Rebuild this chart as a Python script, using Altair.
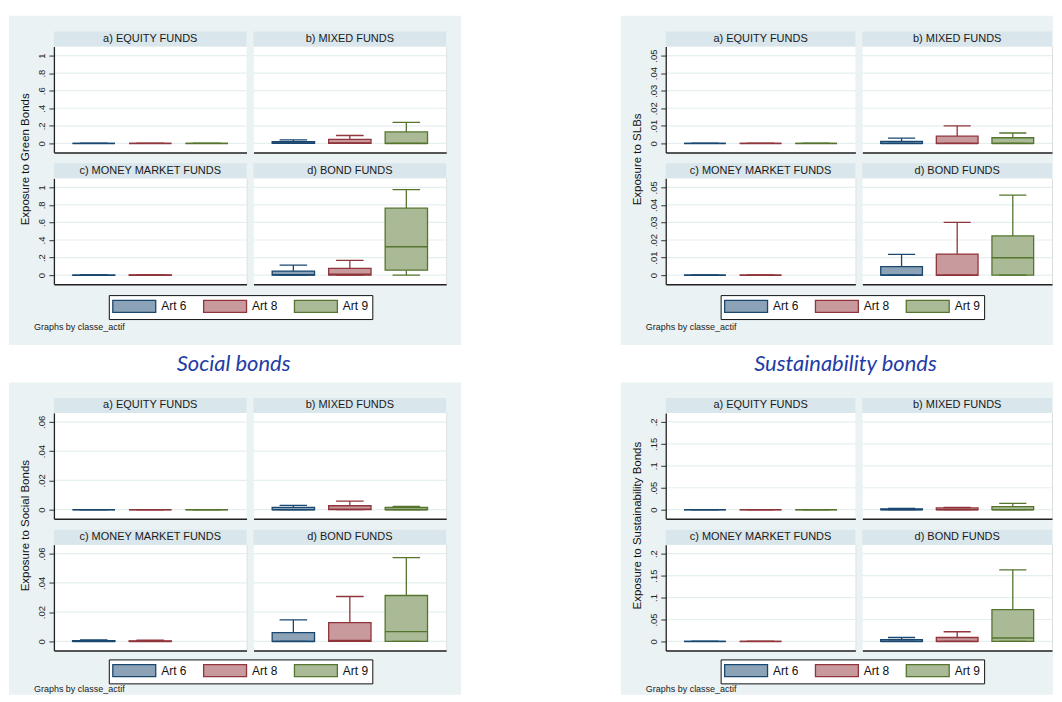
import altair as alt
import pandas as pd

# ---------------- data ----------------
ARTICLES = ["Art 6", "Art 8", "Art 9"]
PANELS = ["a) EQUITY FUNDS", "b) MIXED FUNDS", "c) MONEY MARKET FUNDS", "d) BOND FUNDS"]
FIG_TITLES = ["Green bonds", "Sustainability-linked bonds", "Social bonds", "Sustainability bonds"]
Y_TITLES = ["Exposure to Green Bonds", "Exposure to SLBs",
            "Exposure to Social Bonds", "Exposure to Sustainability Bonds"]
Y_TICKS = [[0, 0.2, 0.4, 0.6, 0.8, 1],
           [0, 0.01, 0.02, 0.03, 0.04, 0.05],
           [0, 0.02, 0.04, 0.06],
           [0, 0.05, 0.1, 0.15, 0.2]]
FOOTNOTE = "Graphs by classe_actif"

# 12 entries each: panels a-d x (Art 6, Art 8, Art 9); None = no such funds
GREEN_LOWER = [0, 0, 0, 0, 0, 0, 0, 0, None, 0, 0, 0]
GREEN_Q1 = [0, 0, 0, 0, 0, 0, 0, 0, None, 0, 0, 0.057]
GREEN_MEDIAN = [0, 0, 0, 0.003, 0.005, 0, 0, 0, None, 0.005, 0.01, 0.324]
GREEN_Q3 = [0, 0, 0, 0.02, 0.045, 0.13, 0.001, 0.002, None, 0.046, 0.076, 0.763]
GREEN_UPPER = [0, 0, 0, 0.04, 0.09, 0.24, 0.002, 0.004, None, 0.115, 0.167, 0.974]

SLB_LOWER = [0, 0, 0, 0, 0, 0, 0, 0, None, 0, 0, 0]
SLB_Q1 = [0, 0, 0, 0, 0, 0, 0, 0, None, 0, 0, 0]
SLB_MEDIAN = [0, 0, 0, 0, 0, 0, 0, 0, None, 0, 0, 0.0099]
SLB_Q3 = [0, 0, 0, 0.0011, 0.0041, 0.0032, 0, 0, None, 0.0048, 0.012, 0.0223]
SLB_UPPER = [0, 0, 0, 0.003, 0.010, 0.0059, 0, 0, None, 0.0118, 0.030, 0.0456]

SOCIAL_LOWER = [0, 0, 0, 0, 0, 0, 0, 0, None, 0, 0, 0]
SOCIAL_Q1 = [0, 0, 0, 0, 0, 0, 0, 0, None, 0, 0, 0]
SOCIAL_MEDIAN = [0, 0, 0, 0, 0.0003, 0, 0, 0, None, 0, 0.0007, 0.0067]
SOCIAL_Q3 = [0, 0, 0, 0.0016, 0.0027, 0.0015, 0.0005, 0.0004, None, 0.006, 0.0129, 0.0314]
SOCIAL_UPPER = [0, 0, 0, 0.003, 0.0059, 0.0023, 0.001, 0.0008, None, 0.0147, 0.0307, 0.0573]

SB_LOWER = [0, 0, 0, 0, 0, 0, 0, 0, None, 0, 0, 0]
SB_Q1 = [0, 0, 0, 0, 0, 0, 0, 0, None, 0, 0, 0]
SB_MEDIAN = [0, 0, 0, 0, 0, 0, 0, 0, None, 0, 0, 0.0076]
SB_Q3 = [0, 0, 0, 0.002, 0.004, 0.007, 0, 0, None, 0.004, 0.009, 0.0726]
SB_UPPER = [0, 0, 0, 0.003, 0.005, 0.0145, 0, 0, None, 0.009, 0.022, 0.163]

STATS = [
    (GREEN_LOWER, GREEN_Q1, GREEN_MEDIAN, GREEN_Q3, GREEN_UPPER),
    (SLB_LOWER, SLB_Q1, SLB_MEDIAN, SLB_Q3, SLB_UPPER),
    (SOCIAL_LOWER, SOCIAL_Q1, SOCIAL_MEDIAN, SOCIAL_Q3, SOCIAL_UPPER),
    (SB_LOWER, SB_Q1, SB_MEDIAN, SB_Q3, SB_UPPER),
]

# ---------------- style ----------------
DARK = ["#1A476F", "#90353B", "#55752F"]
LIGHT = ["#8CA3B7", "#C89A9D", "#AABA97"]
BG = "#EAF2F3"
STRIP = "#D9E6EB"
GRID = "#E6EFF0"
TITLE_BLUE = "#1F3CA6"
FONT = "Liberation Sans"

H = 106
W_LEFT, W_RIGHT = 193, 190   # panel widths of left / right figures
COL_GAP, ROW_GAP = 7, 26
FIG_GAP_X = 206
FIG_GAP_Y = 76.5

LABEL_EXPR = "datum.value == 0 ? '0' : replace(format(datum.value, '~g'), '0.', '.')"


def frame(fi):
    lo, q1, med, q3, hi = STATS[fi]
    rows = []
    for k in range(12):
        if q3[k] is None:
            continue
        rows.append(dict(panel=PANELS[k // 3], article=ARTICLES[k % 3],
                         lo=lo[k], q1=q1[k], med=med[k], q3=q3[k], hi=hi[k]))
    return pd.DataFrame(rows)


FRAMES = [frame(i) for i in range(4)]


def make_legend(top_fig):
    return alt.Legend(title=None, orient="none", legendX=55, legendY=117 if top_fig else 115,
                      direction="horizontal",
                      symbolType="M-3.583,-1H3.583V1H-3.583Z", symbolSize=144,
                      symbolOffset=14.5, symbolStrokeWidth=1.3,
                      labelFontSize=12, labelFont=FONT, labelColor="#111",
                      labelOffset=20, columnPadding=14, padding=4,
                      fillColor="white", strokeColor="#111")


def make_panel(fi, pi):
    left = pi in (0, 2)
    top_fig = fi < 2
    right_fig = fi % 2 == 1
    W = W_RIGHT if right_fig else W_LEFT
    dfp = FRAMES[fi][FRAMES[fi]["panel"] == PANELS[pi]]
    ticks = Y_TICKS[fi]
    top = ticks[-1]
    m = 0.1025 * top
    yscale = alt.Scale(domain=[-m, top + m], nice=False, zero=False)
    if left:
        yaxis = alt.Axis(values=ticks, labelExpr=LABEL_EXPR, labelAngle=270,
                         labelFontSize=9.5, labelColor="#222", labelPadding=2, labelFont=FONT,
                         tickSize=5, tickColor="#333", tickWidth=1,
                         domainColor="#222", domainWidth=1.3, grid=False,
                         title=Y_TITLES[fi] if pi == 0 else None,
                         titleX=-28, titleY=112.5, titleAngle=270, titleBaseline="middle",
                         titleAlign="center", titleFontSize=11.5, titleFontWeight="normal",
                         titleColor="#111", titleFont=FONT, zindex=1)
    else:
        yaxis = None
    xaxis = alt.Axis(labels=False, ticks=False, title=None, grid=False,
                     domainColor="#222", domainWidth=1.5, zindex=1)
    xscale = alt.Scale(type="band", domain=ARTICLES, paddingInner=0.25, paddingOuter=0.33)
    X = alt.X("article:N", scale=xscale, axis=xaxis)
    bandw = 0.75 * W / 3.41

    def Y(f):
        return alt.Y(f"{f}:Q", scale=yscale, axis=yaxis)

    leg = make_legend(top_fig) if pi == 2 else None
    fill = alt.Fill("article:N", scale=alt.Scale(domain=ARTICLES, range=LIGHT), legend=leg)
    stroke = alt.Stroke("article:N", scale=alt.Scale(domain=ARTICLES, range=DARK), legend=leg)

    one = pd.DataFrame({"label": [PANELS[pi]]})
    layers = []
    if pi == 0:
        bg_right = W * 2 + COL_GAP + (1 if right_fig else 15)
        bg_top = -31 if top_fig else -30.5
        bg_bottom = 2 * H + ROW_GAP + (61 if top_fig else 44.5)
        layers.append(alt.Chart(one).mark_rect(color=BG).encode(
            x=alt.value(-45), x2=alt.value(bg_right),
            y=alt.value(bg_top), y2=alt.value(bg_bottom)))
    layers.append(alt.Chart(one).mark_rect(color="white").encode(
        x=alt.value(0), x2=alt.value(W), y=alt.value(0), y2=alt.value(H)))
    layers.append(alt.Chart(pd.DataFrame({"tick": ticks})).mark_rule(
        color=GRID, strokeWidth=1.2).encode(y=Y("tick")))
    layers.append(alt.Chart(one).mark_rect(color=STRIP).encode(
        x=alt.value(0), x2=alt.value(W), y=alt.value(-15), y2=alt.value(0)))
    layers.append(alt.Chart(one).mark_text(
        font=FONT, fontSize=11, color="#1a1a1a", baseline="middle", align="center").encode(
        x=alt.value(W / 2), y=alt.value(-7.5), text="label:N"))
    base = alt.Chart(dfp)
    # whiskers
    layers.append(base.mark_rule(strokeWidth=1.3).encode(x=X, y=Y("q3"), y2="hi", stroke=stroke))
    layers.append(base.mark_rule(strokeWidth=1.3).encode(x=X, y=Y("lo"), y2="q1", stroke=stroke))
    # boxes
    layers.append(base.mark_bar(strokeWidth=1.3).encode(
        x=X, y=Y("q1"), y2="q3", fill=fill, stroke=stroke))
    # median line (zero-height bar = horizontal line across the box)
    layers.append(base.mark_bar(strokeWidth=1.5, width=bandw).encode(
        x=X, y=Y("med"), y2="med", fill=fill, stroke=stroke))
    # whisker caps
    layers.append(base.mark_bar(strokeWidth=1.3, width=0.65 * bandw).encode(
        x=X, y=Y("hi"), y2="hi", fill=fill, stroke=stroke))
    layers.append(base.mark_bar(strokeWidth=1.3, width=0.65 * bandw).encode(
        x=X, y=Y("lo"), y2="lo", fill=fill, stroke=stroke))
    if pi == 0:
        tdf = pd.DataFrame({"title": [FIG_TITLES[fi]]})
        layers.append(alt.Chart(tdf).mark_text(
            font="Lato", fontStyle="italic", fontSize=22, color=TITLE_BLUE,
            align="center", baseline="middle", clip=top_fig).encode(
            x=alt.value(180), y=alt.value(-48.5), text="title:N"))
    if pi == 2:
        fdf = pd.DataFrame({"note": [FOOTNOTE]})
        layers.append(alt.Chart(fdf).mark_text(
            font=FONT, fontSize=9, color="#222", align="left", baseline="middle").encode(
            x=alt.value(-20), y=alt.value(149 if top_fig else 145), text="note:N"))
    return alt.layer(*layers).properties(width=W, height=H)


def spacer(w, h):
    return alt.Chart(pd.DataFrame({"s": [""]})).mark_text().encode(
        text="s:N").properties(width=w, height=h)


cells = []
for pair in [(0, 1), (2, 3)]:
    for prow in [(0, 1), (2, 3)]:
        fl, fr = pair
        cells += [make_panel(fl, prow[0]), make_panel(fl, prow[1]),
                  spacer(FIG_GAP_X, 10),
                  make_panel(fr, prow[0]), make_panel(fr, prow[1])]
    if pair == (0, 1):
        cells += [spacer(10, FIG_GAP_Y), spacer(10, FIG_GAP_Y), spacer(FIG_GAP_X, FIG_GAP_Y),
                  spacer(10, FIG_GAP_Y), spacer(10, FIG_GAP_Y)]

chart = alt.concat(*cells, columns=5,
                   spacing=alt.RowColnumber(row=ROW_GAP, column=COL_GAP),
                   bounds="flush", align="each").resolve_scale(
    fill="independent", stroke="independent",
    x="independent", y="independent").resolve_legend(
    fill="independent", stroke="independent").properties(
    padding={"top": 6, "left": 0, "right": 0, "bottom": 0},
    background="white").configure_view(strokeWidth=0).configure(font=FONT)

chart.save("out.html", embed_options={"renderer": "svg", "actions": False})
